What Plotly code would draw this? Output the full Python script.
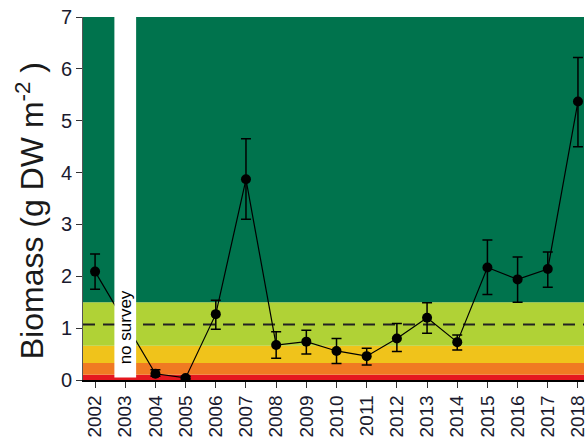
import plotly.graph_objects as go

years = ["2002", "2003", "2004", "2005", "2006", "2007", "2008", "2009", "2010",
         "2011", "2012", "2013", "2014", "2015", "2016", "2017", "2018"]
biomass = [2.09, None, 0.12, 0.04, 1.27, 3.87, 0.675, 0.74, 0.56,
           0.46, 0.80, 1.20, 0.73, 2.17, 1.94, 2.14, 5.37]
err_upper = [2.43, None, 0.20, 0.07, 1.54, 4.65, 0.93, 0.96, 0.80,
             0.61, 1.09, 1.49, 0.87, 2.70, 2.37, 2.47, 6.22]
err_lower = [1.75, None, 0.07, 0.02, 0.98, 3.10, 0.42, 0.50, 0.32,
             0.29, 0.55, 0.90, 0.58, 1.65, 1.50, 1.79, 4.50]

band_edges = [0, 0.1, 0.33, 0.66, 1.5, 7]
band_colors = ["#E5171F", "#F07A22", "#F0C31B", "#B0D236", "#00734D"]
reference_line = 1.07
no_survey_year = "2003"
no_survey_label = "no survey"
y_title = "Biomass (g DW m<sup>-2</sup> )"
y_ticks = [0, 1, 2, 3, 4, 5, 6, 7]

plus = [None if (u is None or v is None) else u - v for u, v in zip(err_upper, biomass)]
minus = [None if (l is None or v is None) else v - l for l, v in zip(err_lower, biomass)]

fig = go.Figure()
fig.add_trace(go.Scatter(
    x=years, y=biomass, mode="lines+markers", connectgaps=True,
    line=dict(color="black", width=1.2),
    marker=dict(color="black", size=10),
    error_y=dict(type="data", symmetric=False, array=plus, arrayminus=minus,
                 color="black", thickness=1.5, width=5),
    showlegend=False,
))

shapes = []
for i, c in enumerate(band_colors):
    shapes.append(dict(type="rect", xref="x domain", yref="y", x0=0, x1=1,
                       y0=band_edges[i], y1=band_edges[i + 1],
                       fillcolor=c, line=dict(width=0), layer="below"))
shapes.append(dict(type="line", xref="x domain", yref="y", x0=0, x1=1,
                   y0=reference_line, y1=reference_line,
                   line=dict(color="#222222", width=2, dash="12px,8px"), layer="below"))
ns_idx = years.index(no_survey_year)
shapes.append(dict(type="rect", xref="x", yref="y", x0=ns_idx - 0.36, x1=ns_idx + 0.36,
                   y0=0.05, y1=band_edges[-1], fillcolor="white",
                   line=dict(width=0), layer="above"))
fig.update_layout(shapes=shapes)

fig.add_annotation(x=ns_idx, y=1.02, xref="x", yref="y", text=no_survey_label,
                   textangle=-90, showarrow=False, xanchor="center", yanchor="middle",
                   font=dict(family="Liberation Sans, Arial", size=17, color="black"))

fig.add_annotation(x=-0.107, y=0.466, xref="paper", yref="paper", text=y_title,
                   textangle=-90, showarrow=False, xanchor="center", yanchor="middle",
                   font=dict(family="Liberation Sans, Arial", size=32, color="#1a1a1a"))

fig.update_layout(
    width=588, height=439,
    margin=dict(l=83, r=0, t=17, b=59),
    paper_bgcolor="white", plot_bgcolor="white",
    font=dict(family="Liberation Sans, Arial", color="#1a1a2e"),
)
fig.update_xaxes(
    type="category", categoryorder="array", categoryarray=years,
    range=[-0.4, 16.2], tickangle=-90, tickfont=dict(size=19, color="#1a1a2e"),
    showline=True, linecolor="black", linewidth=1.5,
    ticks="outside", ticklen=6, tickcolor="#333", showgrid=False, zeroline=False,
)
fig.update_yaxes(
    range=[0, 7], tickvals=y_ticks, tickfont=dict(size=20, color="#1a1a2e"),
    showline=True, linecolor="#555", linewidth=1,
    ticks="outside", ticklen=6, tickcolor="#333", showgrid=False, zeroline=False,
)

fig.write_html("out.html")
